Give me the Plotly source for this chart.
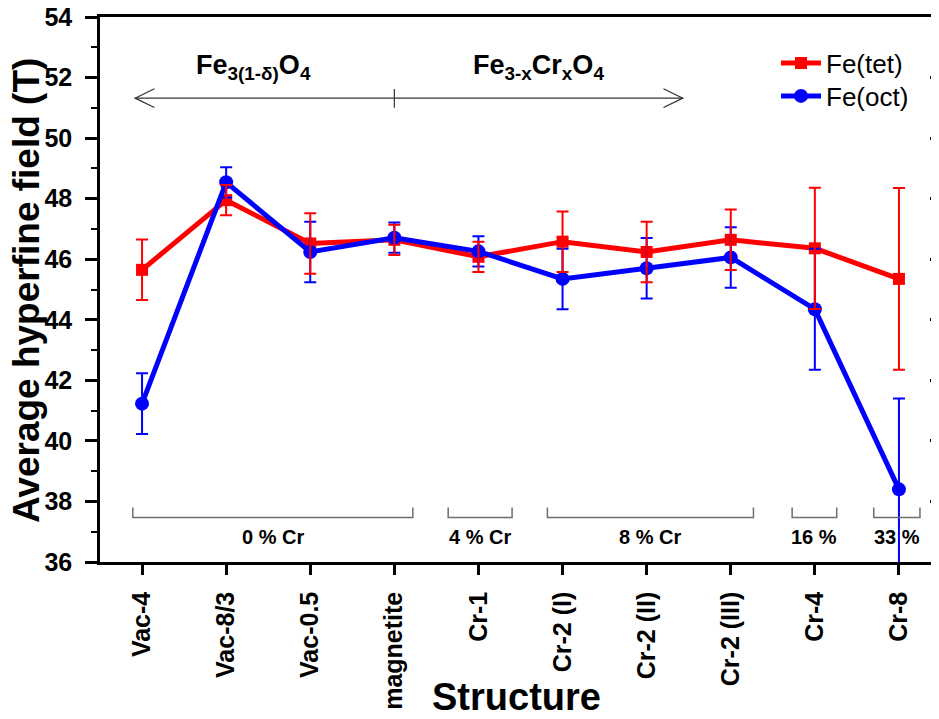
import plotly.graph_objects as go

categories = ["Vac-4", "Vac-8/3", "Vac-0.5", "magnetite", "Cr-1",
              "Cr-2 (I)", "Cr-2 (II)", "Cr-2 (III)", "Cr-4", "Cr-8"]
fe_tet = [45.65, 47.95, 46.52, 46.64, 46.08, 46.58, 46.24, 46.64, 46.36, 45.35]
fe_tet_err = [1.0, 0.5, 1.0, 0.5, 0.5, 1.0, 1.0, 1.0, 2.0, 3.0]
fe_oct = [41.23, 48.54, 46.24, 46.71, 46.26, 45.35, 45.70, 46.06, 44.35, 38.40]
fe_oct_err = [1.0, 0.5, 1.0, 0.5, 0.5, 1.0, 1.0, 1.0, 2.0, 3.0]

# composition groups: (label, bracket start, bracket end) in category-index units
groups = [("0 % Cr", -0.11, 3.22), ("4 % Cr", 3.64, 4.40), ("8 % Cr", 4.82, 7.27),
          ("16 %", 7.73, 8.26), ("33 %", 8.70, 9.25)]

FONT = "Arial, Liberation Sans, sans-serif"
RED = "#ff0000"
BLUE = "#0000ff"

# page body has an 8px margin -> figure coords are shifted by 8px in the screenshot
OFF = 8
PL, PR, PT, PB = 100, 941, 17, 562   # desired plot area on screen
W, H = 939, 719


def px(sx):
    return (sx - PL) / (PR - PL)


def py(sy):
    return (PB - sy) / (PB - PT)


fig = go.Figure()
fig.add_trace(go.Scatter(
    x=categories, y=fe_tet, name="Fe(tet)", mode="lines+markers", legend="legend",
    line=dict(color=RED, width=5),
    marker=dict(symbol="square", size=12, color=RED),
))
fig.add_trace(go.Scatter(
    x=categories, y=fe_oct, name="Fe(oct)", mode="lines+markers", legend="legend2",
    line=dict(color=BLUE, width=5),
    marker=dict(symbol="circle", size=14, color=BLUE),
    error_y=dict(type="data", array=fe_oct_err, color=BLUE, thickness=2, width=6),
))
# red error bars drawn on top
fig.add_trace(go.Scatter(
    x=categories, y=fe_tet, mode="markers", showlegend=False, hoverinfo="skip",
    marker=dict(symbol="square", size=1, color=RED),
    error_y=dict(type="data", array=fe_tet_err, color=RED, thickness=2, width=6),
))
# dummy trace for right-side mirrored ticks
fig.add_trace(go.Scatter(x=[categories[0]], y=[None], yaxis="y2", showlegend=False,
                         hoverinfo="skip"))

shapes = []
annotations = []
GRAY = "#6e6e6e"
y_br, y_br_top, y_lab = 37.47, 37.8, 36.83
for label, x0, x1 in groups:
    shapes.append(dict(type="path", xref="x", yref="y",
                       path=f"M {x0},{y_br_top} L {x0},{y_br} L {x1},{y_br} L {x1},{y_br_top}",
                       line=dict(color=GRAY, width=1.5)))
    annotations.append(dict(x=(x0 + x1) / 2, y=y_lab, xref="x", yref="y", text=label,
                            showarrow=False, font=dict(family=FONT, size=20, color="black",
                                                       weight="bold")))

# double arrow across the top
y_ar = 51.32
xl, xr = -0.083, 6.43
dx, dy = 0.23, 0.31
ARC = "#333333"
shapes += [
    dict(type="line", xref="x", yref="y", x0=xl, x1=xr, y0=y_ar, y1=y_ar,
         line=dict(color=ARC, width=1.2)),
    dict(type="path", xref="x", yref="y",
         path=f"M {xl+dx},{y_ar+dy} L {xl},{y_ar} L {xl+dx},{y_ar-dy}",
         line=dict(color=ARC, width=1.2)),
    dict(type="path", xref="x", yref="y",
         path=f"M {xr-dx},{y_ar+dy} L {xr},{y_ar} L {xr-dx},{y_ar-dy}",
         line=dict(color=ARC, width=1.2)),
    dict(type="line", xref="x", yref="y", x0=3, x1=3, y0=y_ar - 0.32, y1=y_ar + 0.3,
         line=dict(color=ARC, width=1.2)),
]
annotations += [
    dict(x=1.33, y=52.35, xref="x", yref="y", showarrow=False,
         text="<b>Fe<sub>3(1-δ)</sub>O<sub>4</sub></b>",
         font=dict(family=FONT, size=27, color="black")),
    dict(x=4.71, y=52.35, xref="x", yref="y", showarrow=False,
         text="<b>Fe<sub>3-x</sub>Cr<sub>x</sub>O<sub>4</sub></b>",
         font=dict(family=FONT, size=27, color="black")),
    dict(x=px(516), y=py(697), xref="paper", yref="paper",
         showarrow=False, text="Structure", xanchor="center", yanchor="middle",
         font=dict(family=FONT, size=38, color="black", weight="bold")),
    dict(x=px(27), y=py(291), xref="paper", yref="paper",
         showarrow=False, text="Average hyperfine field (T)", textangle=-90,
         xanchor="center", yanchor="middle",
         font=dict(family=FONT, size=37, color="black", weight="bold")),
]

leg_common = dict(xanchor="left", yanchor="top", bgcolor="rgba(0,0,0,0)",
                  font=dict(family=FONT, size=26, color="black"), itemwidth=40)

fig.update_layout(
    width=W, height=H,
    margin=dict(l=PL - OFF, r=W - (PR - OFF), t=PT - OFF, b=H - (PB - OFF)),
    paper_bgcolor="white", plot_bgcolor="white",
    font=dict(family=FONT, color="black"),
    shapes=shapes, annotations=annotations,
    showlegend=True,
    legend=dict(x=px(776), y=py(39.5), **leg_common),
    legend2=dict(x=px(776), y=py(72.5), **leg_common),
    xaxis=dict(
        type="category", range=[-0.5, 9.5], showgrid=False, zeroline=False,
        automargin=False, ticklabeloverflow="allow",
        showline=True, linecolor="black", linewidth=2.5, mirror=True,
        ticks="outside", ticklen=10, tickwidth=2.5, tickcolor="black",
        tickangle=-90, tickfont=dict(family=FONT, size=25, color="black", weight="bold"),
        ticklabelstandoff=7,
    ),
    yaxis=dict(
        range=[36, 54], dtick=2, showgrid=False, zeroline=False,
        automargin=False, ticklabeloverflow="allow",
        showline=True, linecolor="black", linewidth=2.5,
        ticks="outside", ticklen=12, tickwidth=2.5, tickcolor="black",
        minor=dict(dtick=1, ticks="outside", ticklen=6, tickwidth=2, tickcolor="black"),
        tickfont=dict(family=FONT, size=25, color="black", weight="bold"),
        ticklabelstandoff=8,
    ),
    yaxis2=dict(
        overlaying="y", side="right", anchor="x", range=[36, 54], dtick=2,
        automargin=False,
        showgrid=False, zeroline=False, showline=False, showticklabels=False,
        ticks="inside", ticklen=11, tickwidth=2.5, tickcolor="black",
        minor=dict(dtick=1, ticks="inside", ticklen=5, tickwidth=2, tickcolor="black"),
    ),
)

fig.write_html("out.html")
